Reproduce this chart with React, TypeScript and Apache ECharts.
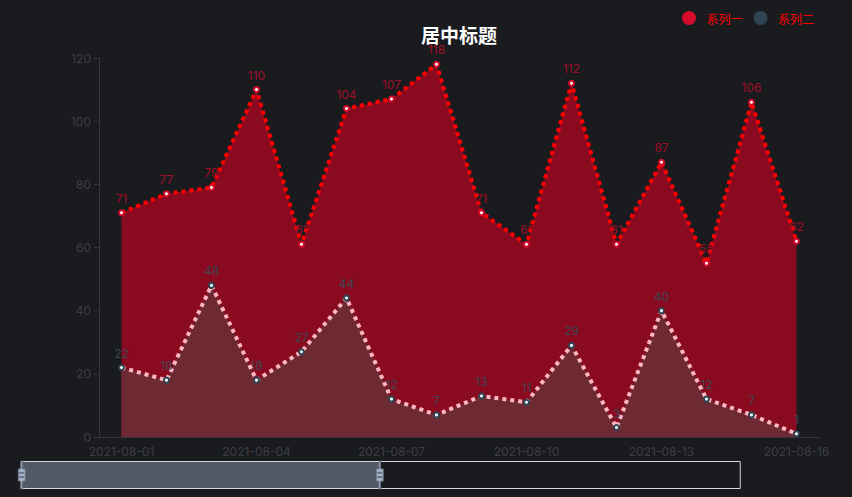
import React, { useEffect, useRef } from "react";
import * as echarts from "echarts";

const dates = [
  "2021-08-01", "2021-08-02", "2021-08-03", "2021-08-04",
  "2021-08-05", "2021-08-06", "2021-08-07", "2021-08-08",
  "2021-08-09", "2021-08-10", "2021-08-11", "2021-08-12",
  "2021-08-13", "2021-08-14", "2021-08-15", "2021-08-16",
];
const seriesOne = [71, 77, 79, 110, 61, 104, 107, 118, 71, 61, 112, 61, 87, 55, 106, 62];
const seriesTwo = [22, 18, 48, 18, 27, 44, 12, 7, 13, 11, 29, 3, 40, 12, 7, 1];
const seriesNames = ["系列一", "系列二"];

const handleIcon =
  "path://M8.2,13.6V3.9H6.3v9.7H3.1v14.9h3.3v9.7h1.8v-9.7h3.3V13.6H8.2z M9.7,24.4H4.8v-1.4h4.9V24.4z M9.7,19.1H4.8v-1.4h4.9V19.1z";

const App: React.FC = () => {
  const chartRef = useRef<HTMLDivElement>(null);

  useEffect(() => {
    if (!chartRef.current) return;
    // chart fills the whole page, no white margin round it
    document.body.style.margin = "0";
    document.body.style.background = "#1a1b1f";
    const chart = echarts.init(chartRef.current, undefined, { renderer: "svg" });

    const axisColor = "#35363b";
    const labelColor = "#3d3e44";

    const option: echarts.EChartsOption = {
      animation: false,
      backgroundColor: "#1a1b1f",
      textStyle: { fontFamily: "Inter, Noto Sans CJK SC, sans-serif" },
      title: {
        text: "居中标题",
        left: 416,
        top: 20,
        textStyle: {
          color: "#ffffff",
          fontSize: 19,
          fontWeight: "bold",
          fontFamily: "Noto Sans CJK SC",
        },
      },
      legend: {
        data: seriesNames,
        right: 33,
        top: 6,
        icon: "circle",
        itemWidth: 25,
        itemHeight: 14,
        itemGap: 11,
        textStyle: { color: "#ff0000", fontSize: 12, fontFamily: "Noto Sans CJK SC" },
      },
      grid: { left: 99, right: 33, top: 58, bottom: 60 },
      xAxis: [
        {
          type: "category",
          data: dates,
          axisLine: { lineStyle: { color: axisColor } },
          axisTick: { lineStyle: { color: axisColor } },
          axisLabel: { interval: 2, color: labelColor, fontSize: 12 },
        },
        { type: "category", data: dates, show: false },
      ],
      yAxis: {
        type: "value",
        min: 0,
        max: 120,
        interval: 20,
        axisLine: { show: true, lineStyle: { color: axisColor } },
        axisTick: { show: true, lineStyle: { color: axisColor } },
        axisLabel: { color: labelColor, fontSize: 12 },
        splitLine: { show: false },
      },
      dataZoom: [
        {
          type: "slider",
          xAxisIndex: 1,
          start: 0,
          end: 50,
          left: 20,
          right: 112,
          top: 461,
          height: 28,
          showDetail: false,
          showDataShadow: false,
          borderColor: "#d8d8d8",
          backgroundColor: "rgba(0,0,0,0)",
          fillerColor: "rgba(167,183,204,0.4)",
          handleIcon,
          handleSize: "100%",
          handleStyle: { color: "#a7b7cc", borderColor: "#6b7586" },
          moveHandleSize: 0,
          brushSelect: false,
        },
      ],
      series: [
        {
          name: seriesNames[0],
          type: "line",
          data: seriesOne,
          symbol: "emptyCircle",
          symbolSize: 5,
          itemStyle: { color: "#d50b2b" },
          lineStyle: { color: "#ff0000", width: 4, type: "dotted" },
          areaStyle: { color: "#8a0a20", opacity: 1 },
          label: { show: true, position: "top", color: "#a00e27", fontSize: 12 },
        },
        {
          name: seriesNames[1],
          type: "line",
          data: seriesTwo,
          symbol: "emptyCircle",
          symbolSize: 5,
          itemStyle: { color: "#2f4554" },
          lineStyle: { color: "#ffb6c1", width: 4, type: "dotted" },
          areaStyle: { color: "#6e2a33", opacity: 1 },
          label: { show: true, position: "top", color: "#3a4654", fontSize: 12 },
        },
      ],
    };

    chart.setOption(option);

    const handleResize = () => chart.resize();
    window.addEventListener("resize", handleResize);

    return () => {
      window.removeEventListener("resize", handleResize);
      chart.dispose();
    };
  }, []);

  return <div ref={chartRef} style={{ width: "852px", height: "497px" }} />;
};

export default App;
